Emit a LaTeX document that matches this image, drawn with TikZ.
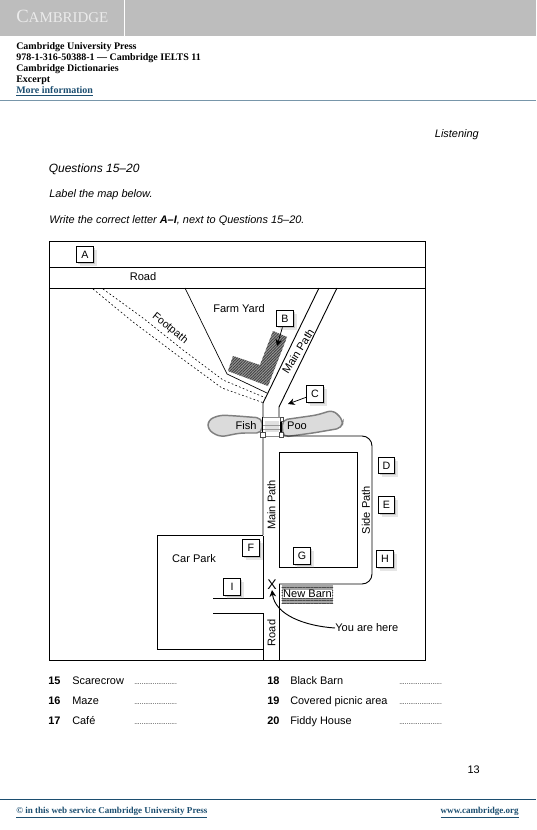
\documentclass[tikz,border=0pt]{standalone}
\usepackage{fontspec}
\setmainfont{Liberation Sans}
\newfontfamily\pressfont{Liberation Serif}
\usepackage{xcolor}
\usetikzlibrary{arrows.meta,patterns.meta,shadows}
\definecolor{bandgray}{RGB}{189,189,189}
\definecolor{pressblue}{RGB}{28,78,112}
\definecolor{rulegray}{RGB}{120,150,170}
\newcommand{\answerdots}{\fontsize{5}{5}\selectfont.......................}

\begin{document}
\begin{tikzpicture}[x=0.75pt,y=-0.75pt,
    letterbox/.style={rectangle, draw=black, fill=white, line width=0.85pt,
        minimum width=12.5pt, minimum height=12.5pt, inner sep=0pt,
        font=\fontsize{8}{8}\selectfont,
        drop shadow={shadow xshift=2.6pt, shadow yshift=-2.6pt, opacity=0.2},
        drop shadow={shadow xshift=1.2pt, shadow yshift=-1.2pt, opacity=0.35}},
    maplabel/.style={font=\fontsize{8.3}{9}\selectfont, inner sep=0pt},
    pagetext/.style={font=\fontsize{8.2}{10}\selectfont, anchor=base west, inner sep=0pt},
    pageitalic/.style={font=\fontsize{8.2}{10}\selectfont\itshape, anchor=base west, inner sep=0pt},
    numtext/.style={font=\fontsize{8.2}{10}\selectfont\bfseries, anchor=base west, inner sep=0pt},
    presstext/.style={font=\pressfont\fontsize{7.5}{8}\selectfont\bfseries, anchor=base west, inner sep=0pt},
    foottext/.style={font=\pressfont\fontsize{6.8}{8}\selectfont\bfseries, anchor=base west, inner sep=0pt, pressblue},
    pointer/.style={-{Stealth[length=5pt,width=5pt]}, line width=0.55pt},
    mapline/.style={line width=0.68pt},
    thinline/.style={line width=0.5pt},
    footline/.style={line width=0.45pt, dash pattern=on 1.3pt off 1.7pt},
    pondfill/.style={draw=black!50, fill=black!14, line width=1.1pt, rounded corners=4pt},
    hatchfill/.style={pattern={Lines[angle=45,distance=1.5pt,line width=0.65pt]}, pattern color=black!75}
]
    \useasboundingbox (0,0) rectangle (536,830);

    % Header band
    \fill[bandgray] (0,0) rectangle (536,36.5);
    \draw[white, line width=0.6pt] (124,0) -- (124,36.5);
    \node[font=\pressfont\fontsize{14}{14}\selectfont, white!92!black, anchor=base west, inner sep=0pt] (brand) at (16,23) {C\fontsize{11.2}{14}\selectfont AMBRIDGE};
    \node[presstext] (press) at (16,50) {Cambridge University Press};
    \node[presstext] (isbn) at (16,61) {978-1-316-50388-1 — Cambridge IELTS 11};
    \node[presstext] (dict) at (16,72) {Cambridge Dictionaries};
    \node[presstext] (excerpt) at (16,83) {Excerpt};
    \node[presstext, pressblue] (more) at (16,93.5) {\underline{More information}};
    \draw[rulegray, line width=0.7pt] (0,100.5) -- (536,100.5);

    % Page text
    \node[pageitalic, anchor=base east] (listening) at (479,138) {Listening};
    \node[pageitalic, font=\fontsize{9}{11}\selectfont\itshape] (questions) at (48.5,173) {Questions 15–20};
    \node[pageitalic] (labelmap) at (49,198) {Label the map below.};
    \node[pageitalic] (writeletter) at (49,224) {Write the correct letter \textbf{A–I}, next to Questions 15–20.};

    % Map frame and top road
    \draw[mapline] (49,241) rectangle (425,660);
    \draw[mapline] (49,267) -- (425,267);
    \draw[mapline] (49,288) -- (425,288);

    % Footpath
    \draw[footline] (93,289) -- (133,322) -- (177,355) -- (222,388) -- (264,403);
    \draw[footline] (103,289) -- (143,318) -- (183,350) -- (223,380) -- (266,398);

    % Farm yard and building
    \draw[thinline] (185,288) -- (227,374) -- (267,393);
    \fill[black!40] (233,356) -- (228,371) -- (268,386) -- (287,337) -- (273,331) -- (260,365) -- cycle;
    \fill[hatchfill] (233,356) -- (228,371) -- (268,386) -- (287,337) -- (273,331) -- (260,365) -- cycle;

    % Fish pool
    \draw[pondfill] (262,418) -- (237,416) -- (220,415) -- (208,420) -- (208,430) -- (220,437) -- (240,433) -- (262,433) -- cycle;
    \draw[pondfill] (282,420) -- (317,415) -- (333,410) -- (343,420) -- (342,428) -- (313,433) -- (283,437) -- cycle;

    % Main path and side path
    \draw[mapline] (319,288) -- (263,403) -- (263,535);
    \draw[mapline] (337,288) -- (279,407) -- (279,417);
    \draw[mapline, rounded corners=7.5pt] (282,436) -- (372,436) -- (372,584) -- (279,584);
    \draw[mapline] (279,584) -- (279,660);
    \draw[thinline] (279,452) rectangle (357,567);

    % Car park
    \draw[mapline] (263,535.5) -- (157,535.5) -- (157,649.5) -- (263,649.5) -- (263,660);
    \draw[mapline] (213,613.5) -- (263,613.5) -- (263,649.5);
    \draw[mapline] (213,598) -- (263,598) -- (263,535.5);

    % Bridge
    \draw[black!45, fill=white, line width=0.6pt] (262,417.5) rectangle (281.5,436.5);
    \fill[black!12] (265,421) rectangle (279,432);
    \draw[black!40, line width=0.4pt] (263,425) -- (281,425);
    \draw[black!40, line width=0.4pt] (263,429) -- (281,429);
    \draw[line width=1pt] (262.5,417) -- (262.5,433);
    \draw[line width=1pt] (281,417) -- (281,433);
    \draw[black!70, thinline, fill=white] (260.5,432.5) rectangle (265,437);
    \draw[black!70, thinline, fill=white] (279,432.5) rectangle (283.5,437);
    \draw[black!70, thinline, fill=white] (280,417) rectangle (283,421);

    % New barn
    \fill[black!35] (281.5,585) rectangle (333,603.5);
    \fill[pattern={Lines[angle=0,distance=2pt,line width=0.5pt]}, pattern color=black!70] (281.5,585) rectangle (333,603.5);
    \node[fill=white, inner xsep=0.4pt, inner ysep=0.4pt, font=\fontsize{8.3}{8}\selectfont] (barn) at (307.5,594) {New Barn};

    % Map labels
    \node[maplabel] (road) at (143,277) {Road};
    \node[maplabel] (yard) at (239,309) {Farm Yard};
    \node[maplabel, rotate=-39, font=\fontsize{8}{9}\selectfont] (footpath) at (170,328.5) {Footpath};
    \node[maplabel, rotate=58] (mainpath) at (298,351) {Main Path};
    \node[maplabel] (fish) at (246,426) {Fish};
    \node[maplabel] (poo) at (297,426) {Poo};
    \node[maplabel, rotate=90] (mainpathb) at (271.5,505) {Main Path};
    \node[maplabel, rotate=90] (sidepath) at (366,510) {Side Path};
    \node[maplabel] (carpark) at (194,559) {Car Park};
    \node[maplabel, rotate=90] (roadb) at (271.5,633) {Road};
    \node[maplabel, font=\fontsize{10.5}{10}\selectfont] (here) at (272,585) {X};
    \node[maplabel, anchor=west] (youhere) at (335,628) {You are here};

    % Letter boxes
    \node[letterbox] (A) at (85,254.5) {A};
    \node[letterbox] (B) at (285,318.5) {B};
    \node[letterbox] (C) at (315,394) {C};
    \node[letterbox] (D) at (386.5,465.5) {D};
    \node[letterbox] (E) at (386.5,505) {E};
    \node[letterbox] (F) at (251,548) {F};
    \node[letterbox] (G) at (302,556) {G};
    \node[letterbox] (H) at (385,559) {H};
    \node[letterbox] (I) at (232,587) {I};

    % Pointers
    \coordinate (btip) at (277,346);
    \coordinate (ctip) at (288,404);
    \draw[pointer] (B) -- (btip);
    \draw[pointer] (C) -- (ctip);
    \draw[pointer, line width=0.7pt] (youhere.west) .. controls (305,626) and (275,615) .. (here.south);

    % Questions
    \node[numtext] (n15) at (48,684) {15};
    \node[pagetext] (t15) at (72,684) {Scarecrow};
    \node[pagetext] (d15) at (134,684) {\answerdots};
    \node[numtext] (n16) at (48,704) {16};
    \node[pagetext] (t16) at (72,704) {Maze};
    \node[pagetext] (d16) at (134,704) {\answerdots};
    \node[numtext] (n17) at (48,724) {17};
    \node[pagetext] (t17) at (72,724) {Café};
    \node[pagetext] (d17) at (134,724) {\answerdots};
    \node[numtext] (n18) at (267,684) {18};
    \node[pagetext] (t18) at (290,684) {Black Barn};
    \node[pagetext] (d18) at (399,684) {\answerdots};
    \node[numtext] (n19) at (267,704) {19};
    \node[pagetext] (t19) at (290,704) {Covered picnic area};
    \node[pagetext] (d19) at (399,704) {\answerdots};
    \node[numtext] (n20) at (267,724) {20};
    \node[pagetext] (t20) at (290,724) {Fiddy House};
    \node[pagetext] (d20) at (399,724) {\answerdots};

    % Footer
    \node[pagetext, anchor=base east] (pagenum) at (480,773) {13};
    \draw[pressblue, line width=0.7pt] (0,799.5) -- (536,799.5);
    \node[foottext] (copyright) at (16,813) {\underline{© in this web service Cambridge University Press}};
    \node[foottext, anchor=base east] (website) at (519,813) {\underline{www.cambridge.org}};
\end{tikzpicture}
\end{document}
